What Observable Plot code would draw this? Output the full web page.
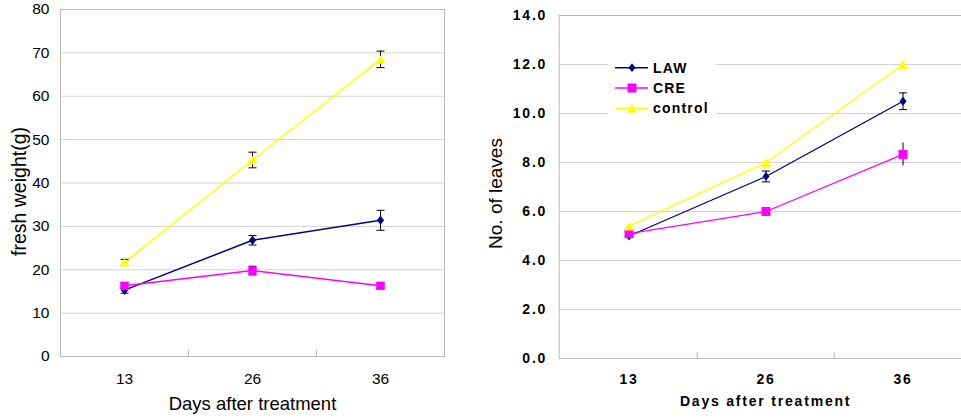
<!DOCTYPE html>
<html><head><meta charset="utf-8">
<script src="https://cdn.jsdelivr.net/npm/d3@7"></script>
<script src="https://cdn.jsdelivr.net/npm/@observablehq/plot@0.6"></script>
<style>
html,body{margin:0;padding:0;background:#fff;}
#wrap{position:relative;width:961px;height:418px;overflow:hidden;background:#fff;}
#left{position:absolute;left:0;top:0;width:450px;}
#right{position:absolute;left:480px;top:0;width:500px;}
#legend{position:absolute;left:608px;top:55px;}
svg{display:block;max-width:none !important;}
</style></head><body>
<div id="wrap"><div id="left"></div><div id="right"></div><div id="legend"></div></div>
<script>
// ---- data ----
const days = ["13", "26", "36"];
const seriesNames = ["LAW", "CRE", "control"];

const weightLAW = [15.3, 26.8, 31.4];
const weightLAWErr = [0.7, 1.1, 2.3];
const weightCRE = [16.3, 19.8, 16.3];
const weightCREErr = [0.6, 1.0, 0.6];
const weightControl = [21.7, 45.3, 68.5];
const weightControlErr = [0.7, 1.8, 1.9];
const weightTicks = [0, 10, 20, 30, 40, 50, 60, 70, 80];

const leavesLAW = [5.0, 7.43, 10.5];
const leavesLAWErr = [0, 0.22, 0.34];
const leavesCRE = [5.1, 6.0, 8.33];
const leavesCREErr = [0, 0, 0.47];
const leavesControl = [5.4, 8.0, 12.0];
const leavesControlErr = [0, 0, 0];
const leavesTicks = [0, 2, 4, 6, 8, 10, 12, 14];

const xLabel = "Days after treatment";
const weightLabel = "fresh weight(g)";
const leavesLabel = "No. of leaves";

// ---- styles ----
const colors = {LAW: "#000080", CRE: "#FF00FF", control: "#FFFF00"};
function diamond(hw, hh) { return {draw(c) { c.moveTo(0, -hh); c.lineTo(hw, 0); c.lineTo(0, hh); c.lineTo(-hw, 0); c.closePath(); }}; }
function square(h) { return {draw(c) { c.moveTo(-h, -h); c.lineTo(h, -h); c.lineTo(h, h); c.lineTo(-h, h); c.closePath(); }}; }
function triangle(hw, hh) { return {draw(c) { c.moveTo(0, -hh); c.lineTo(hw, hh); c.lineTo(-hw, hh); c.closePath(); }}; }
const capSymbol = {draw(c) { c.moveTo(-4, 0); c.lineTo(4, 0); }};
const gridColor = "#d2d2d2";
const frameColor = "#b8b8b8";

function rows(vals, errs) { return days.map((d, i) => ({day: d, value: vals[i], err: errs[i]})); }

function panel(cfg) {
  const plotW = cfg.width - cfg.ml - cfg.mr;
  const plotH = cfg.height - cfg.mt - cfg.mb;
  const bw = plotW / days.length;
  const marks = [
    Plot.ruleY(cfg.ticks, {y: d => d, stroke: gridColor}),
    Plot.frame({stroke: frameColor}),
    Plot.ruleX(days.slice(1), {x: d => d, dx: -bw / 2, insetTop: plotH - 6, stroke: frameColor})
  ];
  cfg.series.forEach(s => {
    marks.push(Plot.line(s.data, {x: "day", y: "value", stroke: colors[s.name], strokeWidth: cfg.lw}));
  });
  cfg.series.forEach(s => {
    const e = s.data.filter(d => d.err > 0);
    marks.push(Plot.ruleX(e, {x: "day", y1: d => d.value - d.err, y2: d => d.value + d.err, stroke: "#000", strokeWidth: 1}));
    if (s.caps) {
      marks.push(Plot.dot(e, {x: "day", y: d => d.value + d.err, symbol: capSymbol, stroke: "#000", fill: "none", strokeWidth: 1}));
      marks.push(Plot.dot(e, {x: "day", y: d => d.value - d.err, symbol: capSymbol, stroke: "#000", fill: "none", strokeWidth: 1}));
    }
  });
  cfg.series.forEach(s => {
    marks.push(Plot.dot(s.data, {x: "day", y: "value", symbol: s.symbol, fill: colors[s.name], stroke: "none"}));
  });
  marks.push(Plot.text([cfg.xLabel], {text: d => d, frameAnchor: "bottom", textAnchor: "middle", dy: cfg.xLabelDy, fontSize: cfg.xLabelSize, fontWeight: cfg.xLabelWeight}));
  marks.push(Plot.text([cfg.yLabel], {text: d => d, frameAnchor: "left", textAnchor: "middle", rotate: -90, dx: cfg.yLabelDx, dy: cfg.yLabelDy, fontSize: cfg.yLabelSize, fontWeight: "normal"}));
  const svg = Plot.plot({
    width: cfg.width, height: cfg.height,
    marginLeft: cfg.ml, marginRight: cfg.mr, marginTop: cfg.mt, marginBottom: cfg.mb,
    style: Object.assign({fontFamily: "'Liberation Sans', Arial, sans-serif", color: "#000", background: "transparent", overflow: "visible", maxWidth: "none"}, cfg.style),
    x: {type: "band", domain: days, padding: 0, tickSize: 0, tickPadding: cfg.xTickPad, label: null},
    y: {domain: [cfg.ticks[0], cfg.ticks[cfg.ticks.length - 1]], ticks: cfg.ticks, tickFormat: cfg.tickFormat, tickSize: 0, tickPadding: cfg.yTickPad, label: null},
    marks
  });
  d3.select(svg).selectAll("text").filter(function() { return this.textContent === cfg.yLabel; }).style("letter-spacing", "0px");
  return svg;
}

const left = panel({
  width: 450, height: 418, ml: 60, mr: 6, mt: 9, mb: 62, lw: 1.5,
  ticks: weightTicks, tickFormat: d3.format("d"),
  style: {fontSize: "15.5px"},
  xTickPad: 16, yTickPad: 11,
  xLabel: xLabel, xLabelDy: 53, xLabelSize: 18.5, xLabelWeight: "normal",
  yLabel: weightLabel, yLabelDx: -41, yLabelDy: 8.5, yLabelSize: 19.5,
  series: [
    {name: "LAW", data: rows(weightLAW, weightLAWErr), symbol: diamond(3.6, 4.8), caps: true},
    {name: "CRE", data: rows(weightCRE, weightCREErr), symbol: square(4.2), caps: true},
    {name: "control", data: rows(weightControl, weightControlErr), symbol: triangle(5, 4.2), caps: true}
  ]
});
document.getElementById("left").appendChild(left);

const right = panel({
  width: 500, height: 418, ml: 78.7, mr: 8.5, mt: 15, mb: 60, lw: 1.3,
  ticks: leavesTicks, tickFormat: d3.format(".1f"),
  style: {fontSize: "14px", fontWeight: "bold", letterSpacing: "1.8px"},
  xTickPad: 16, yTickPad: 12,
  xLabel: xLabel, xLabelDy: 47, xLabelSize: 14, xLabelWeight: "bold",
  yLabel: leavesLabel, yLabelDx: -63.7, yLabelDy: 6.5, yLabelSize: 19,
  series: [
    {name: "LAW", data: rows(leavesLAW, leavesLAWErr), symbol: diamond(3.5, 4.4), caps: true},
    {name: "CRE", data: rows(leavesCRE, leavesCREErr), symbol: square(4.5), caps: false},
    {name: "control", data: rows(leavesControl, leavesControlErr), symbol: triangle(5, 4.4), caps: true}
  ]
});
document.getElementById("right").appendChild(right);

// ---- legend ----
const legendSymbols = {LAW: diamond(3.5, 4.4), CRE: square(4.5), control: triangle(5, 4.4)};
const lg = d3.create("svg").attr("width", 108).attr("height", 63).style("background", "#fff");
seriesNames.forEach((name, i) => {
  const cy = 12.7 + i * 20.3;
  lg.append("line").attr("x1", 7).attr("x2", 40).attr("y1", cy).attr("y2", cy).attr("stroke", colors[name]).attr("stroke-width", 1.5);
  lg.append("path").attr("d", d3.symbol(legendSymbols[name])()).attr("transform", `translate(24,${cy})`).attr("fill", colors[name]);
  lg.append("text").attr("x", 45).attr("y", cy).attr("dy", "0.36em").text(name)
    .style("font-family", "'Liberation Sans', Arial, sans-serif").style("font-size", "14px").style("font-weight", "bold").style("letter-spacing", "1.2px");
});
document.getElementById("legend").appendChild(lg.node());
</script>
</body></html>
